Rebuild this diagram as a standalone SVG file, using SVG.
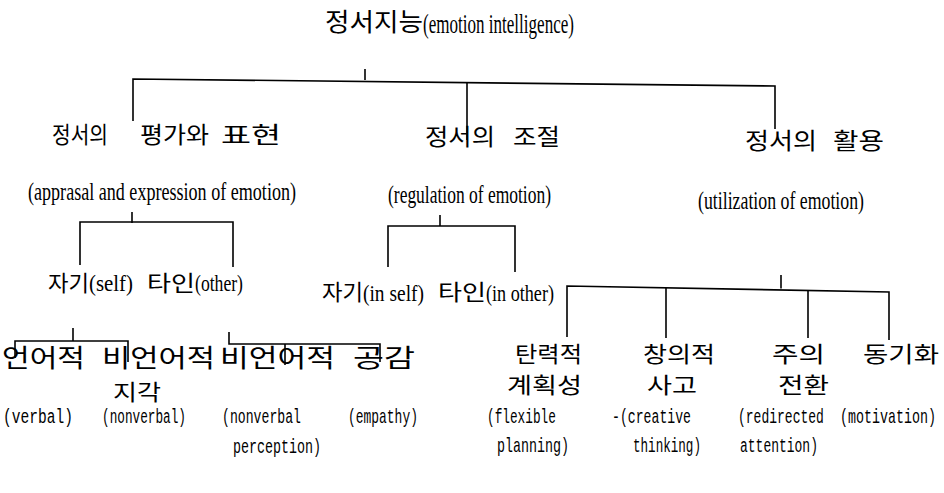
<svg xmlns="http://www.w3.org/2000/svg" width="944" height="493" viewBox="0 0 944 493">
<style>
.k{font-family:'Noto Sans CJK KR',sans-serif;fill:#000}
.s{font-family:'Liberation Serif',serif;fill:#000}
.m{font-family:'Liberation Mono',monospace;fill:#000;font-size:21px}
.c{stroke:#000;stroke-width:1.6;fill:none}
</style>
<rect width="944" height="493" fill="#fff"/>
<g id="connectors" class="c">
<path d="M365,69 V80"/>
<path d="M133,121 V79 L775,86 V129"/>
<path d="M467,82.6 V140"/>
<path d="M132,212 V223"/>
<path d="M80,265 V222 H233 V267"/>
<path d="M440,215 V226"/>
<path d="M388,267 V226 H515 V272"/>
<path d="M781,275 V288.5"/>
<path d="M567,337 V286 L889,292 V340"/>
<path d="M666,287.9 V338"/>
<path d="M808,290.5 V338"/>
<path d="M73,328 V341"/>
<path d="M15,358 V341 H128 V362"/>
<path d="M229,332 V344 H380 V362"/>
<path d="M285,344 V365"/>
</g>
<g id="n-root">
<text class="k" x="325" y="31" font-size="25" textLength="98" lengthAdjust="spacingAndGlyphs">정서지능</text>
<text class="s" x="423" y="33" font-size="28" textLength="151" lengthAdjust="spacingAndGlyphs">(emotion intelligence)</text>
</g>
<g id="n-appraisal">
<text class="k" x="52" y="143" font-size="23" textLength="56" lengthAdjust="spacingAndGlyphs">정서의</text>
<text class="k" x="140" y="143" font-size="23" textLength="69" lengthAdjust="spacingAndGlyphs">평가와</text>
<text class="k" x="221" y="143" font-size="23" textLength="60" lengthAdjust="spacingAndGlyphs">표현</text>
<text class="s" x="28" y="200" font-size="25" textLength="268" lengthAdjust="spacingAndGlyphs">(apprasal and expression of emotion)</text>
</g>
<g id="n-regulation">
<text class="k" x="425" y="145" font-size="23" textLength="70" lengthAdjust="spacingAndGlyphs">정서의</text>
<text class="k" x="513" y="145" font-size="23" textLength="47" lengthAdjust="spacingAndGlyphs">조절</text>
<text class="s" x="388" y="203" font-size="25" textLength="163" lengthAdjust="spacingAndGlyphs">(regulation of emotion)</text>
</g>
<g id="n-utilization">
<text class="k" x="745" y="149" font-size="23" textLength="72" lengthAdjust="spacingAndGlyphs">정서의</text>
<text class="k" x="833" y="149" font-size="23" textLength="51" lengthAdjust="spacingAndGlyphs">활용</text>
<text class="s" x="698" y="209" font-size="25" textLength="166" lengthAdjust="spacingAndGlyphs">(utilization of emotion)</text>
</g>
<g id="n-self1">
<text class="k" x="48" y="291" font-size="22" textLength="41" lengthAdjust="spacingAndGlyphs">자기</text>
<text class="s" x="89" y="291" font-size="24" textLength="44" lengthAdjust="spacingAndGlyphs">(self)</text>
</g>
<g id="n-other1">
<text class="k" x="147" y="291" font-size="22" textLength="48" lengthAdjust="spacingAndGlyphs">타인</text>
<text class="s" x="195" y="291" font-size="24" textLength="48" lengthAdjust="spacingAndGlyphs">(other)</text>
</g>
<g id="n-self2">
<text class="k" x="322" y="300" font-size="22" textLength="41" lengthAdjust="spacingAndGlyphs">자기</text>
<text class="s" x="363" y="301" font-size="24" textLength="61" lengthAdjust="spacingAndGlyphs">(in self)</text>
</g>
<g id="n-other2">
<text class="k" x="438" y="300" font-size="22" textLength="48" lengthAdjust="spacingAndGlyphs">타인</text>
<text class="s" x="486" y="301" font-size="24" textLength="68" lengthAdjust="spacingAndGlyphs">(in other)</text>
</g>
<g id="n-verbal">
<text class="k" x="2" y="367" font-size="25" textLength="83" lengthAdjust="spacingAndGlyphs">언어적</text>
<text class="m" transform="translate(3,423) scale(0.694,1)">(verbal)</text>
</g>
<g id="n-nonverbal">
<text class="k" x="102" y="367" font-size="25" textLength="113" lengthAdjust="spacingAndGlyphs">비언어적</text>
<text class="m" transform="translate(102,423) scale(0.606,1)">(nonverbal)</text>
</g>
<g id="n-nvperception">
<text class="k" x="220" y="367" font-size="25" textLength="115" lengthAdjust="spacingAndGlyphs">비언어적</text>
<text class="k" x="113" y="400" font-size="22" textLength="48" lengthAdjust="spacingAndGlyphs">지각</text>
<text class="m" transform="translate(222,423) scale(0.627,1)">(nonverbal</text>
<text class="m" transform="translate(233,453) scale(0.635,1)">perception)</text>
</g>
<g id="n-empathy">
<text class="k" x="353" y="367" font-size="25" textLength="62" lengthAdjust="spacingAndGlyphs">공감</text>
<text class="m" transform="translate(348,423) scale(0.617,1)">(empathy)</text>
</g>
<g id="n-flexible">
<text class="k" x="515" y="362" font-size="22" textLength="67" lengthAdjust="spacingAndGlyphs">탄력적</text>
<text class="k" x="507" y="393" font-size="22" textLength="75" lengthAdjust="spacingAndGlyphs">계획성</text>
<text class="m" transform="translate(487,423) scale(0.608,1)">(flexible</text>
<text class="m" transform="translate(497,452) scale(0.635,1)">planning)</text>
</g>
<g id="n-creative">
<text class="k" x="643" y="362" font-size="22" textLength="72" lengthAdjust="spacingAndGlyphs">창의적</text>
<text class="k" x="647" y="393" font-size="22" textLength="50" lengthAdjust="spacingAndGlyphs">사고</text>
<text class="m" transform="translate(612,423) scale(0.627,1)">-(creative</text>
<text class="m" transform="translate(633,452) scale(0.6,1)">thinking)</text>
</g>
<g id="n-redirected">
<text class="k" x="772" y="362" font-size="22" textLength="53" lengthAdjust="spacingAndGlyphs">주의</text>
<text class="k" x="778" y="393" font-size="22" textLength="51" lengthAdjust="spacingAndGlyphs">전환</text>
<text class="m" transform="translate(738,423) scale(0.62,1)">(redirected</text>
<text class="m" transform="translate(740,452) scale(0.619,1)">attention)</text>
</g>
<g id="n-motivation">
<text class="k" x="863" y="362" font-size="22" textLength="76" lengthAdjust="spacingAndGlyphs">동기화</text>
<text class="m" transform="translate(840,423) scale(0.635,1)">(motivation)</text>
</g>
</svg>
